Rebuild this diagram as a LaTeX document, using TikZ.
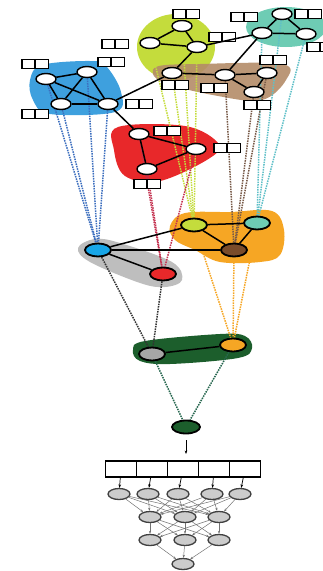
\documentclass[tikz,border=0pt]{standalone}
\usepackage{tikz}
\usetikzlibrary{shapes.geometric,arrows.meta}

\definecolor{blobblue}{RGB}{62,160,222}
\definecolor{blobyel}{RGB}{196,220,60}
\definecolor{blobteal}{RGB}{110,204,180}
\definecolor{blobbrown}{RGB}{180,140,104}
\definecolor{blobred}{RGB}{232,40,42}
\definecolor{blobgray}{RGB}{190,190,190}
\definecolor{bloborange}{RGB}{246,166,36}
\definecolor{blobgreen}{RGB}{28,94,44}
\definecolor{nodeblue}{RGB}{24,166,232}
\definecolor{nodebrown}{RGB}{122,76,42}
\definecolor{lnblue}{RGB}{60,110,190}
\definecolor{lnred}{RGB}{196,50,80}
\definecolor{lnteal}{RGB}{96,192,200}
\definecolor{lnbrown}{RGB}{120,90,72}
\definecolor{lngreen}{RGB}{40,104,80}

\pgfdeclarelayer{blobs}
\pgfdeclarelayer{links}
\pgfsetlayers{blobs,links,main}

\begin{document}
\begin{tikzpicture}[x=1pt,y=-1pt,
  top/.style={ellipse,draw,line width=1.4pt,fill=white,minimum width=20pt,minimum height=11pt,inner sep=0pt},
  mid/.style={ellipse,draw,line width=1.8pt,minimum width=26pt,minimum height=13pt,inner sep=0pt},
  lblbox/.style={draw,line width=1.1pt,fill=white,minimum width=12.5pt,minimum height=9pt,inner sep=0pt},
  edge/.style={line width=1.5pt},
  link/.style={densely dotted,line width=1.5pt},
  nn/.style={ellipse,draw=black!75,line width=1.3pt,fill=black!20,minimum width=22pt,minimum height=11pt,inner sep=0pt},
  nnedge/.style={black!55,line width=0.5pt,-{Stealth[length=3pt]}},
  cellbox/.style={draw,line width=1.3pt,minimum width=31pt,minimum height=16pt,inner sep=0pt}]
  \useasboundingbox (0,0) rectangle (322,571);

  % first level graph
  \foreach \p/\x/\y in {B1/46/79,B2/87/72,B3/61/104,B4/108/104,Y1/182/26,Y2/150/43,Y3/197/47,Y4/172/73,
                        T1/282/14,T2/262/33,T3/306/34,R1/225/75,R2/267/73,R3/254/92,D1/139/134,D2/196/149,D3/147/169}
    \node[top] (\p) at (\x,\y) {};
  \foreach \p/\x/\y in {B1/35/64,B2/111/62,B3/35/114,B4/139/104,Y1/186/14,Y2/115/44,Y3/222/37,Y4/175/85,
                        T1/308/14,T2/244/17,T3/320/47,R1/214/88,R2/273/60,R3/257/105,D1/167/131,D2/227/148,D3/147/184}{
    \node[lblbox,anchor=east] (\p la) at (\x,\y) {};
    \node[lblbox,anchor=west] (\p lb) at (\x,\y) {};
  }
  \foreach \a/\b in {B1/B2,B1/B3,B1/B4,B2/B3,B2/B4,B3/B4,B4/Y4,B4/D1,Y1/Y2,Y1/Y3,Y2/Y3,Y3/Y4,Y3/T2,
                     T1/T2,T1/T3,T2/T3,T2/R1,Y4/R1,R1/R2,R2/R3,R1/R3,D1/D2,D1/D3,D2/D3}
    \draw[edge] (\a)--(\b);

  % second level
  \node[mid,fill=nodeblue] (MB) at (98,250) {};
  \node[mid,fill=blobred] (MR) at (163,274) {};
  \node[mid,fill=blobyel] (MY) at (194,225) {};
  \node[mid,fill=blobteal] (MT) at (257,223) {};
  \node[mid,fill=nodebrown] (MBr) at (234,250) {};
  \foreach \a/\b in {MB/MR,MB/MY,MB/MBr,MY/MT,MY/MBr,MT/MBr}
    \draw[edge] (\a)--(\b);

  % third level
  \node[mid,fill=black!35] (G) at (152,354) {};
  \node[mid,fill=bloborange] (O) at (233,345) {};
  \draw[edge] (G)--(O);
  \node[mid,fill=blobgreen,minimum width=28pt] (F) at (186,427) {};

  \begin{pgfonlayer}{blobs}
    \fill[blobyel] (176,47) ellipse (39pt and 33pt);
    \fill[blobteal] (286,27) ellipse (40pt and 20pt);
    \fill[blobbrown,opacity=0.9] plot[smooth cycle,tension=0.6] coordinates {(156,67) (200,64) (282,64) (286,80) (262,100) (218,96) (162,82)};
    \fill[blobblue] plot[smooth cycle,tension=0.6] coordinates {(30,80) (42,65) (90,61) (106,66) (121,92) (115,112) (50,114) (33,100)};
    \fill[blobred] plot[smooth cycle,tension=0.6] coordinates {(118,127) (185,126) (218,143) (210,158) (160,181) (125,176) (114,150)};
    \fill[blobgray] plot[smooth cycle,tension=0.6] coordinates {(78,248) (95,239) (120,243) (172,262) (182,280) (165,287) (140,283) (90,262)};
    \fill[bloborange] plot[smooth cycle,tension=0.6] coordinates {(170,226) (185,213) (230,212) (272,211) (284,230) (280,255) (260,262) (220,262) (195,250) (175,240)};
    \fill[blobgreen] plot[smooth cycle,tension=0.6] coordinates {(133,350) (145,341) (220,334) (245,336) (252,348) (238,358) (170,364) (140,361)};
  \end{pgfonlayer}

  \begin{pgfonlayer}{links}
    \foreach \p in {B1,B2,B3,B4} \draw[link,lnblue] (\p)--(MB);
    \foreach \p in {Y1,Y2,Y3,Y4} \draw[link,blobyel] (\p)--(MY);
    \foreach \p in {T1,T2,T3} \draw[link,lnteal] (\p)--(MT);
    \foreach \p in {R1,R2,R3} \draw[link,lnbrown] (\p)--(MBr);
    \foreach \p in {D1,D2,D3} \draw[link,lnred] (\p)--(MR);
    \foreach \p in {MB,MR} \draw[link,black!80] (\p)--(G);
    \foreach \p in {MY,MT,MBr} \draw[link,bloborange] (\p)--(O);
    \foreach \p in {G,O} \draw[link,lngreen] (\p)--(F);
  \end{pgfonlayer}

  % network
  \coordinate (arrtop) at (186,440);
  \coordinate (arrbot) at (186,454);
  \draw[line width=0.7pt,-{Stealth[length=3.5pt]}] (arrtop)--(arrbot);
  \foreach \i/\x in {1/121,2/152,3/183,4/214,5/245}
    \node[cellbox] (c\i) at (\x,469) {};
  \foreach \i/\x in {1/119,2/148,3/178,4/212,5/240}
    \node[nn] (h1\i) at (\x,494) {};
  \foreach \i/\x in {1/150,2/185,3/219}{
    \node[nn] (h2\i) at (\x,517) {};
    \node[nn] (h3\i) at (\x,540) {};
  }
  \node[nn] (out) at (183,564) {};
  \foreach \i in {1,...,5} \draw[line width=0.7pt,-{Stealth[length=3.5pt]}] (c\i)--(h1\i);
  \foreach \i in {1,...,5} \foreach \j in {1,2,3} \draw[nnedge] (h1\i)--(h2\j);
  \foreach \i in {1,2,3} \foreach \j in {1,2,3} \draw[nnedge] (h2\i)--(h3\j);
  \foreach \i in {1,2,3} \draw[nnedge] (h3\i)--(out);
\end{tikzpicture}
\end{document}
